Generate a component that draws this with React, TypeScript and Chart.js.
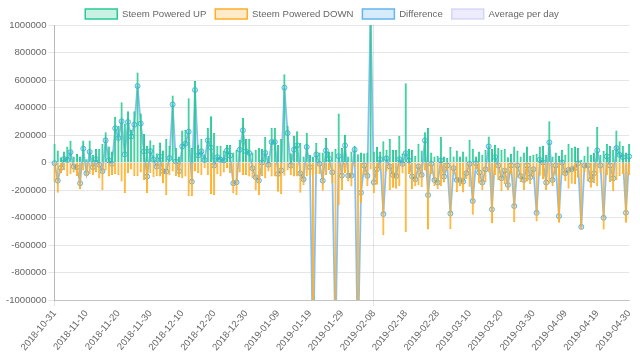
import React, { useEffect, useRef } from 'react';
import { Chart, registerables } from 'chart.js';

Chart.register(...registerables);

// ---- categories: daily dates (one day absent in the source data near the end) ----
const START_DATE = '2018-10-31';
const MISSING_DATE = '2019-04-25';
const END_DATE = '2019-04-30';

function buildDates(): string[] {
  const out: string[] = [];
  const d = new Date(START_DATE + 'T00:00:00Z');
  const end = new Date(END_DATE + 'T00:00:00Z');
  while (d.getTime() <= end.getTime()) {
    const s = d.toISOString().slice(0, 10);
    if (s !== MISSING_DATE) out.push(s);
    d.setUTCDate(d.getUTCDate() + 1);
  }
  return out;
}
const dates = buildDates();

// ---- series (SP per day) ----
const poweredUp = [
  137000, 88000, 39000, 80000, 117000, 158000, 44000, 63000, 44000, 160000,
  24000, 160000, 56000, 98000, 98000, 137000, 220000, 117000, 80000, 332000,
  268000, 439000, 283000, 373000, 239000, 373000, 654000, 356000, 207000, 122000,
  161000, 129000, 68000, 146000, 88000, 171000, 122000, 488000, 105000, 44000,
  232000, 239000, 468000, 105000, 593000, 129000, 171000, 60000, 251000, 337000,
  215000, 122000, 122000, 88000, 129000, 129000, 73000, 93000, 166000, 324000,
  171000, 171000, 73000, 93000, 105000, 98000, 185000, 49000, 251000, 251000,
  129000, 171000, 641000, 268000, 68000, 195000, 227000, 141000, 44000, 215000,
  56000, 44000, 141000, 73000, 73000, 178000, 80000, 80000, 98000, 356000,
  105000, 202000, 44000, 80000, 122000, 60000, 73000, 68000, 73000, 1150000,
  80000, 112000, 80000, 154000, 93000, 171000, 93000, 93000, 195000, 68000,
  576000, 98000, 93000, 49000, 137000, 88000, 220000, 251000, 73000, 44000,
  49000, 185000, 44000, 32000, 112000, 44000, 88000, 44000, 80000, 44000,
  166000, 100000, 44000, 80000, 56000, 93000, 190000, 100000, 129000, 105000,
  93000, 98000, 39000, 63000, 117000, 88000, 44000, 73000, 117000, 49000,
  56000, 63000, 117000, 122000, 56000, 300000, 44000, 73000, 49000, 93000,
  56000, 137000, 105000, 117000, 105000, 20000, 49000, 117000, 56000, 73000,
  259000, 56000, 85000, 137000, 122000, 93000, 232000, 154000, 122000, 73000, 137000,
];

const poweredDown = [
  -142000, -220000, -78000, -54000, -98000, -83000, -73000, -98000, -195000, -59000,
  -102000, -83000, -90000, -73000, -115000, -200000, -59000, -102000, -90000, -83000,
  -90000, -139000, -224000, -78000, -50000, -98000, -98000, -73000, -127000, -224000,
  -78000, -107000, -98000, -102000, -151000, -237000, -90000, -66000, -98000, -107000,
  -115000, -102000, -244000, -244000, -66000, -78000, -90000, -41000, -90000, -229000,
  -237000, -83000, -102000, -73000, -41000, -78000, -224000, -237000, -73000, -90000,
  -90000, -102000, -115000, -200000, -237000, -98000, -115000, -66000, -102000, -102000,
  -212000, -229000, -97000, -54000, -90000, -102000, -102000, -220000, -166000, -102000,
  -90000, -1500000, -83000, -83000, -205000, -90000, -54000, -151000, -1400000, -310000,
  -200000, -78000, -139000, -175000, -29000, -1450000, -293000, -90000, -170000, -50000,
  -224000, -161000, -56000, -529000, -64000, -200000, -183000, -191000, -171000, -78000,
  -508000, -83000, -195000, -171000, -166000, -178000, -59000, -488000, -83000, -171000,
  -195000, -170000, -146000, -54000, -483000, -85000, -215000, -171000, -219000, -122000,
  -176000, -380000, -49000, -153000, -202000, -142000, -73000, -441000, -90000, -127000,
  -208000, -157000, -202000, -85000, -434000, -110000, -142000, -200000, -139000, -156000,
  -105000, -429000, -97000, -122000, -202000, -154000, -171000, -95000, -439000, -93000,
  -134000, -191000, -154000, -158000, -110000, -488000, -71000, -139000, -183000, -151000,
  -171000, -78000, -487000, -93000, -144000, -208000, -127000, -98000, -83000, -439000, -93000,
];

// Difference per day = powered up + powered down (down values are negative)
const difference = poweredUp.map((v, i) => v + poweredDown[i]);

// Average per day series has no visible marks in the reference
const averagePerDay: number[] = [];

const Y_MIN = -1000000;
const Y_MAX = 1000000;
const Y_STEP = 200000;
const LABEL_EVERY = 10;

// light legend swatch fills, per dataset
const LEGEND_FILLS = [
  'rgba(40,202,148,0.25)',
  'rgba(255,174,40,0.25)',
  'rgba(54,162,235,0.2)',
  'rgba(200,200,245,0.35)',
];
const LEGEND_STROKES = [
  'rgb(40,202,148)',
  'rgb(255,174,40)',
  'rgb(100,180,238)',
  'rgba(200,200,245,0.7)',
];

const legendFitPlugin = {
  id: 'legendFit',
  beforeLayout(chart: any) {
    const lg = chart.legend;
    if (lg && !lg.__patched) {
      const orig = lg.fit;
      lg.fit = function () {
        orig.call(this);
        this.height -= 4;
      };
      lg.__patched = true;
    }
  },
};

export default function App() {
  const ref = useRef<HTMLCanvasElement | null>(null);

  useEffect(() => {
    document.body.style.margin = '0';
    const canvas = ref.current;
    if (!canvas) return;
    const clip = { left: 6, right: 6, top: 0, bottom: 0 } as any;
    const font = { family: '"Liberation Sans", Arial, Helvetica, sans-serif', size: 9.6 };
    const defaultGen = (Chart.defaults as any).plugins.legend.labels.generateLabels;
    const chart = new Chart(canvas, {
      type: 'bar',
      data: {
        labels: dates,
        datasets: [
          {
            type: 'bar',
            label: 'Steem Powered UP',
            data: poweredUp,
            backgroundColor: 'rgb(40,202,148)',
            borderColor: 'rgb(40,202,148)',
            borderWidth: 1,
            grouped: false,
            barPercentage: 0.85,
            categoryPercentage: 0.8,
            order: 1,
            clip,
          } as any,
          {
            type: 'bar',
            label: 'Steem Powered DOWN',
            data: poweredDown,
            backgroundColor: 'rgb(255,174,40)',
            borderColor: 'rgb(255,174,40)',
            borderWidth: 1,
            grouped: false,
            barPercentage: 0.85,
            categoryPercentage: 0.8,
            order: 2,
            clip,
          } as any,
          {
            type: 'line',
            label: 'Difference',
            data: difference,
            borderColor: 'rgb(135,192,240)',
            backgroundColor: 'rgba(54,162,235,0.2)',
            borderWidth: 1.8,
            pointRadius: 2.5,
            pointBorderWidth: 1,
            pointBorderColor: 'rgba(54,162,235,0.8)',
            pointBackgroundColor: 'rgba(54,162,235,0.2)',
            tension: 0,
            fill: false,
            order: 3,
            clip,
          } as any,
          {
            type: 'line',
            label: 'Average per day',
            data: averagePerDay,
            borderColor: 'rgba(200,200,245,0.6)',
            backgroundColor: 'rgba(200,200,245,0.35)',
            borderWidth: 1,
            fill: false,
            order: 4,
          } as any,
        ],
      },
      options: {
        responsive: false,
        animation: false,
        devicePixelRatio: 1,
        layout: { padding: { left: 4, right: 0, top: 0, bottom: 6 } },
        plugins: {
          legend: {
            position: 'top',
            labels: {
              boxWidth: 32,
              boxHeight: 10,
              padding: 9,
              color: '#666',
              font,
              sort: (a: any, b: any) => a.datasetIndex - b.datasetIndex,
              generateLabels: (c: any) =>
                defaultGen(c).map((it: any) => ({
                  ...it,
                  fillStyle: LEGEND_FILLS[it.datasetIndex],
                  strokeStyle: LEGEND_STROKES[it.datasetIndex],
                  lineWidth: 1.5,
                })),
            },
          },
          tooltip: { enabled: false },
        },
        scales: {
          x: {
            type: 'category',
            offset: false,
            grid: {
              offset: false,
              tickLength: 6,
              color: (ctx: any) => (ctx.index % LABEL_EVERY === 0 ? 'rgba(0,0,0,0.1)' : 'rgba(0,0,0,0)'),
            },
            border: { color: 'rgba(0,0,0,0.15)' },
            ticks: {
              autoSkip: false,
              maxRotation: 50,
              minRotation: 50,
              padding: 2,
              color: '#666',
              font,
              callback: (_v: any, i: number) => (i % LABEL_EVERY === 0 ? dates[i] : null),
            },
          },
          y: {
            min: Y_MIN,
            max: Y_MAX,
            grid: { color: 'rgba(0,0,0,0.1)', tickLength: 6 },
            border: { color: 'rgba(0,0,0,0.2)' },
            ticks: {
              stepSize: Y_STEP,
              padding: 2,
              color: '#666',
              font,
              callback: (v: any) => String(v),
            },
          },
        },
      },
      plugins: [legendFitPlugin as any],
    });
    return () => chart.destroy();
  }, []);

  return (
    <div style={{ width: 640, height: 361 }}>
      <canvas ref={ref} width={640} height={361} style={{ display: 'block' }} />
    </div>
  );
}
